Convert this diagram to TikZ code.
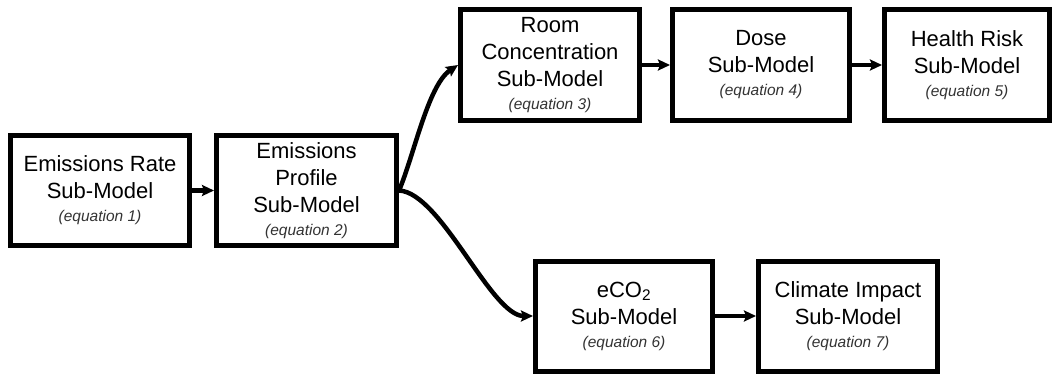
\documentclass[tikz,border=0pt]{standalone}
\usepackage{fontspec}
\setmainfont{Liberation Sans}
\usetikzlibrary{arrows.meta}
\definecolor{eqgray}{HTML}{333333}
\newcommand\eqline[1]{{\fontsize{15.5}{24}\selectfont\itshape\color{eqgray}(equation #1)}}
\begin{document}
\begin{tikzpicture}[x=1pt,y=-1pt,
  model/.style={draw=black, line width=5pt, fill=white, align=center,
    inner sep=0pt, font=\fontsize{22}{27}\selectfont},
  flow/.style={line width=4.5pt, -{Stealth[length=12pt,width=11pt,inset=2pt]}}]
  \useasboundingbox (0,0) rectangle (1055,375);
  % sub-model boxes (centre, outer size minus line width)
  \node[model, minimum width=179pt, minimum height=110pt] (rate) at (100,190.5)
    {Emissions Rate\\Sub-Model\\[-4pt]\eqline{1}};
  \node[model, minimum width=180pt, minimum height=110pt] (profile) at (306.5,190.5)
    {Emissions\\Profile\\Sub-Model\\[-4pt]\eqline{2}};
  \node[model, minimum width=179pt, minimum height=111pt] (room) at (550,65)
    {Room\\Concentration\\Sub-Model\\[-4pt]\eqline{3}};
  \node[model, minimum width=177pt, minimum height=111pt] (dose) at (761,65)
    {Dose\\Sub-Model\\[-4pt]\eqline{4}};
  \node[model, minimum width=165pt, minimum height=111pt] (risk) at (967,65)
    {Health Risk\\Sub-Model\\[-4pt]\eqline{5}};
  \node[model, minimum width=177pt, minimum height=110pt] (eco) at (624,316)
    {eCO\textsubscript{2}\\Sub-Model\\[-4pt]\eqline{6}};
  \node[model, minimum width=179pt, minimum height=110pt] (climate) at (848,316)
    {Climate Impact\\Sub-Model\\[-4pt]\eqline{7}};
  % connectors
  \draw[flow] (rate.east |- profile.west) -- (profile.west);
  \draw[flow] (profile.east) .. controls +(15,-35) and +(-30,20) .. (room.west);
  \draw[flow] (profile.east) .. controls +(42,2) and +(-42,0) .. (eco.west);
  \draw[flow] (room.east) -- (dose.west);
  \draw[flow] (dose.east) -- (risk.west);
  \draw[flow] (eco.east) -- (climate.west);
\end{tikzpicture}
\end{document}
